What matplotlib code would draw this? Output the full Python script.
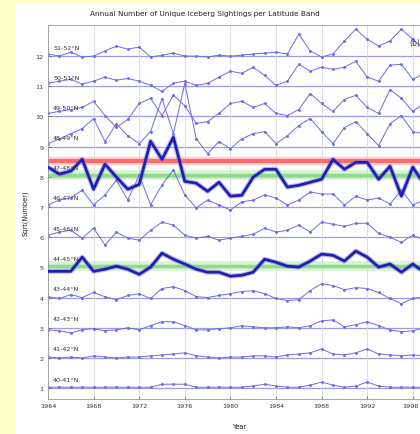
import numpy as np
import matplotlib
matplotlib.use('Agg')
import matplotlib.pyplot as plt
from matplotlib.patches import Rectangle
from matplotlib.transforms import ScaledTranslation

# Iceberg sightings per latitude band, sqrt of annual counts,
# each band stacked on its own baseline (1 = southernmost)
years = np.arange(1964, 1999)
bands = ['40-41°N', '41-42°N', '42-43°N', '43-44°N', '44-45°N', '45-46°N',
         '46-47°N', '47-48°N', '48-49°N', '49-50°N', '50-51°N', '51-52°N']
xtick_years = [1964, 1968, 1972, 1976, 1980, 1984, 1988, 1992, 1996, 2000, 2004]
xtick_labels = ['1964', '1968', '1972', '1976', '1980', '1984', '1988', '1992', '1996', '', '']

b40 = [0.03, 0.03, 0.03, 0.03, 0.03, 0.03, 0.03, 0.03, 0.03, 0.03, 0.13, 0.13, 0.13, 0.03, 0.03, 0.03, 0.03, 0.03,
       0.07, 0.13, 0.07, 0.03, 0.03, 0.10, 0.20, 0.10, 0.03, 0.07, 0.20, 0.07, 0.03, 0.03, 0.03, 0.03, 0.03]
b41 = [0.03, 0.00, 0.03, 0.00, 0.07, 0.03, 0.00, 0.03, 0.03, 0.07, 0.10, 0.13, 0.17, 0.07, 0.03, 0.00, 0.03, 0.03,
       0.07, 0.07, 0.03, 0.10, 0.13, 0.17, 0.30, 0.13, 0.10, 0.17, 0.30, 0.13, 0.10, 0.07, 0.10, 0.07, 0.03]
b42 = [-0.07, -0.10, -0.17, -0.07, -0.03, -0.10, -0.07, 0.00, -0.07, 0.07, 0.20, 0.20, 0.07, -0.07, -0.07, -0.03,
       0.00, 0.07, 0.03, 0.00, 0.00, 0.03, 0.00, 0.07, 0.23, 0.26, 0.03, 0.10, 0.20, 0.07, -0.07, -0.13, -0.10, 0.00,
       -0.03]
b43 = [0.03, -0.03, 0.10, 0.00, 0.17, 0.03, -0.07, 0.07, 0.13, -0.03, 0.30, 0.36, 0.23, 0.03, 0.00, 0.07, 0.13, 0.20,
       0.23, 0.13, -0.03, -0.10, -0.07, 0.23, 0.46, 0.40, 0.26, 0.33, 0.30, 0.17, -0.03, -0.20, -0.03, 0.03, -0.03]
b44 = [-0.13, -0.13, -0.13, 0.34, -0.13, -0.06, 0.04, -0.06, -0.23, 0.01, 0.47, 0.27, 0.11, -0.06, -0.16, -0.16,
       -0.29, -0.26, -0.16, 0.27, 0.17, 0.04, 0.01, 0.21, 0.44, 0.40, 0.21, 0.54, 0.34, 0.01, 0.11, -0.16, 0.11, -0.16,
       -0.06]
b45 = [0.07, 0.17, 0.23, -0.03, 0.30, -0.26, 0.17, -0.03, -0.10, 0.23, 0.50, 0.40, 0.07, -0.03, 0.03, -0.10, -0.03,
       0.03, 0.10, 0.30, 0.17, 0.23, 0.40, 0.17, 0.50, 0.43, 0.36, 0.46, 0.46, 0.13, 0.00, -0.17, 0.07, -0.10, 0.03]
b46 = [0.07, 0.23, 0.30, 0.56, 0.07, 0.40, 0.89, 0.23, 1.06, 0.07, 0.73, 1.23, 0.40, -0.03, 0.23, 0.07, -0.10, 0.17,
       0.23, 0.40, 0.30, 0.07, 0.23, 0.50, 0.43, 0.43, 0.07, 0.36, 0.23, 0.30, 0.10, 0.56, 0.07, 0.23, 0.17]
b47 = [0.32, 0.09, 0.19, 0.58, -0.41, 0.42, -0.01, -0.41, -0.25, 1.18, 0.58, 1.31, -0.15, -0.21, -0.48, -0.18, -0.64,
       -0.61, -0.01, 0.25, 0.25, -0.34, -0.28, -0.18, -0.08, 0.58, 0.25, 0.48, 0.48, -0.08, 0.35, -0.64, 0.32, -0.25,
       -0.08]
b48 = [0.10, 0.26, 0.43, 0.60, 0.93, 0.17, 0.76, 0.36, 0.10, 0.50, 1.59, 0.43, 2.09, 0.26, -0.23, 0.17, -0.07, 0.26,
       0.43, 0.50, 0.10, 0.36, 0.70, 0.93, 0.50, 0.10, 0.63, 0.83, 0.43, 0.03, 0.76, 1.03, 0.50, 0.43, 0.60]
b49 = [0.10, 0.17, 0.23, 0.30, 0.50, 0.03, -0.36, -0.10, 0.43, 0.60, 0.03, 0.70, 0.36, -0.23, -0.17, 0.10, 0.43, 0.50,
       0.30, 0.43, 0.10, 0.03, 0.23, 0.76, 0.43, 0.17, 0.56, 0.70, 0.30, 0.10, 0.89, 0.60, 0.17, 0.43, 0.30]
b50 = [0.10, 0.17, 0.23, 0.07, 0.17, 0.30, 0.20, 0.26, 0.17, 0.03, -0.17, 0.10, 0.17, 0.03, 0.10, 0.30, 0.50, 0.43,
       0.63, 0.36, 0.03, 0.17, 0.73, 0.50, 0.63, 0.56, 0.63, 0.83, 0.30, 0.17, 0.70, 0.73, 0.23, 0.43, 0.33]
b51 = [0.07, 0.00, 0.13, -0.03, 0.00, 0.17, 0.33, 0.23, 0.30, -0.03, 0.03, 0.10, 0.00, 0.00, -0.03, 0.03, 0.00, 0.03,
       0.07, 0.10, 0.13, 0.07, 0.73, 0.17, -0.03, 0.07, 0.50, 0.89, 0.56, 0.33, 0.50, 0.89, 0.56, 0.23, 0.30]

series = [b40, b41, b42, b43, b44, b45, b46, b47, b48, b49, b50, b51]
highlight = ['44-45°N', '47-48°N']

fig = plt.figure(figsize=(4.2, 4.35), dpi=100, facecolor='#ffffc8')
fig.add_artist(Rectangle((15 / 420, 0), 1, 431 / 435, transform=fig.transFigure,
                         facecolor='white', edgecolor='none', zorder=-5))

# axes run off the right edge of the page
ax = fig.add_axes([48 / 420, 35 / 435, 456 / 420, 374 / 435])
ax.set_facecolor('white')
ax.set_xlim(1964, 2004)
ax.set_ylim(0.64, 13.03)
ax.set_xticks(xtick_years, xtick_labels)
ax.set_yticks(range(1, 13))
ax.tick_params(direction='in', length=2, width=0.5, labelsize=4.6, colors='#555555', labelcolor='#333333', pad=3)
# keep the last visible year label on the page
last = ax.get_xticklabels()[8]
last.set_transform(last.get_transform() + ScaledTranslation(-2.5 / 100, 0, fig.dpi_scale_trans))
for s in ax.spines.values():
    s.set_color('#999999')
    s.set_linewidth(0.6)
ax.grid(axis='x', color='#d8d8d8', lw=0.6)
for lvl in range(1, 13):
    ax.axhline(lvl, color='#9d9de6', lw=0.9, zorder=1)

# mean and mean+std reference lines for the highlighted bands
i47 = bands.index('47-48°N') + 1
m47 = i47 + np.mean(b47)
r47 = m47 + np.std(b47)
i44 = bands.index('44-45°N') + 1
m44 = i44 + np.mean(b44)
ax.axhline(r47, color='#ffb0b0', lw=6, alpha=0.6, zorder=1.5)
ax.axhline(r47, color='#ff6a6a', lw=3, zorder=1.6)
for m in (m47, m44):
    ax.axhline(m, color='#c8f0c0', lw=7, alpha=0.7, zorder=1.5)
    ax.axhline(m, color='#8edc8a', lw=2.5, zorder=1.6)

for i, (name, vals) in enumerate(zip(bands, series)):
    lvl = i + 1
    y = lvl + np.array(vals)
    if name in highlight:
        ax.plot(years, y, color='#8080e0', lw=3.6, alpha=0.5, zorder=3)
        ax.plot(years, y, color='#1f1fb2', lw=2.0, zorder=3.1)
    else:
        ax.plot(years, y, color='#6c6ce8', lw=0.7, marker='.', ms=2.2, zorder=2)
    ax.text(1964.45, lvl + 0.3, name, fontsize=4.6, color='#333333', va='center', zorder=4)

ax.text(1995.7, 12.46, '(b)', fontsize=5.5, color='#333333', va='center', zorder=5)

fig.text(205 / 420, 1 - 14 / 435, 'Annual Number of Unique Iceberg Sightings per Latitude Band',
         ha='center', va='center', fontsize=5.3, color='#222222')
fig.text(240 / 420, 1 - 427 / 435, 'Year', ha='center', va='center', fontsize=4.8, color='#222222')
fig.text(25 / 420, 1 - 213 / 435, 'Sqrt(Number)', ha='center', va='center', rotation=90,
         fontsize=4.8, color='#222222')

fig.savefig('out.png', dpi=100, facecolor=fig.get_facecolor())
